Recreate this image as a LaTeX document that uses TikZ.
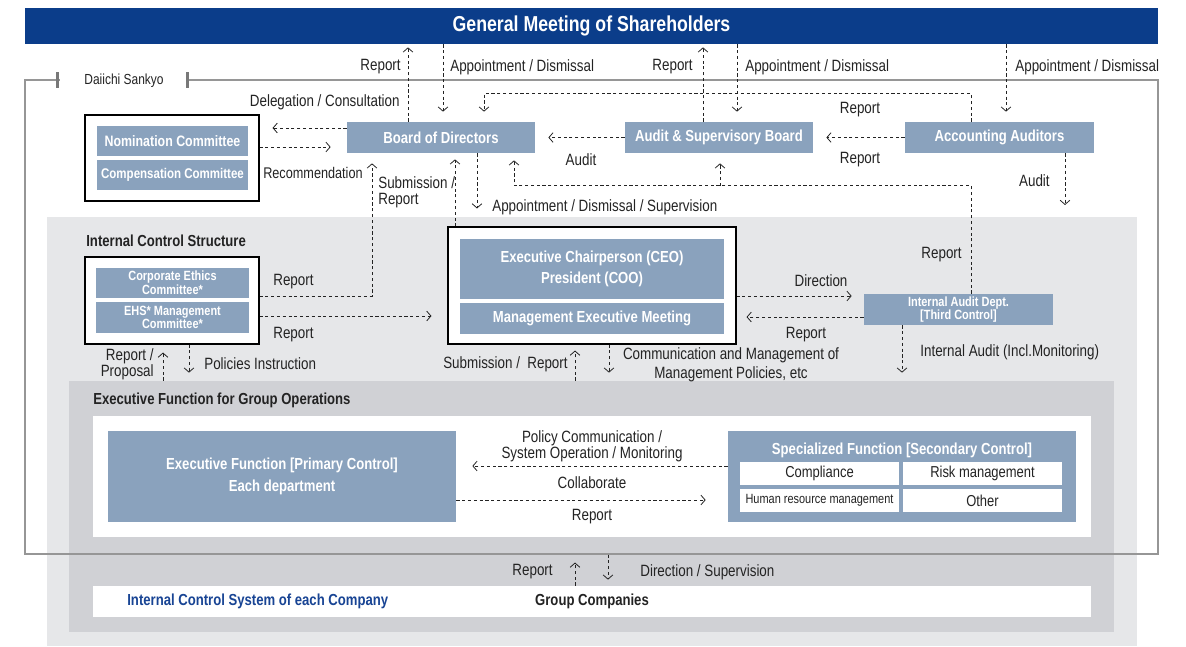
\documentclass[tikz,border=0pt]{standalone}
\usepackage{fontspec}
\setmainfont{Liberation Sans}[FakeStretch=0.82]
\usetikzlibrary{arrows.meta,fit}
\definecolor{gmsblue}{RGB}{11,61,138}
\definecolor{boxblue}{RGB}{138,162,189}
\definecolor{lightgrey}{RGB}{230,231,233}
\definecolor{midgrey}{RGB}{208,209,213}
\definecolor{framegrey}{RGB}{150,150,150}
\definecolor{tickgrey}{RGB}{120,120,120}
\definecolor{ctrlblue}{RGB}{24,68,148}
\definecolor{inkgrey}{RGB}{35,35,35}
\begin{document}
\begin{tikzpicture}[x=0.02cm,y=-0.02cm,
		every node/.style={inner sep=0pt,text=inkgrey,font=\fontsize{9.3}{10}\selectfont},
		wh/.style 2 args={minimum width=#1*0.02cm,minimum height=#2*0.02cm},
		unit/.style={fill=boxblue,text=white,font=\bfseries\fontsize{9.1}{12}\selectfont,align=center},
		small/.style={font=\bfseries\fontsize{7.6}{7.8}\selectfont},
		holder/.style={draw=black,fill=white,line width=0.6pt},
		cell/.style={fill=white,font=\fontsize{9}{10}\selectfont,wh={159}{23}},
		heading/.style={anchor=west,font=\bfseries\fontsize{9.1}{10}\selectfont},
		flow/.style={draw=inkgrey,line width=0.45pt,dash pattern=on 1.8pt off 1.5pt,-{Straight Barb[length=2.4pt,width=5.5pt]}}]
		\useasboundingbox (0,0) rectangle (1186,646);
		\node[fit={(47,217) (1137,646)},fill=lightgrey] (icsarea) {};
		\node[fit={(69,381) (1114,632)},fill=midgrey] (grpops) {};
		\node[fit={(93,416) (1091,537)},fill=white] (panel) {};
		\node[fit={(93,586) (1091,617)},fill=white] (gcbar) {};
		\node[fit={(25,80) (1158,554)},draw=framegrey,line width=0.6pt] (daiichi) {};
		\node[fill=white,minimum width=2.56cm,minimum height=0.3cm,font=\fontsize{8.3}{9}\selectfont] (dslabel) at (124,81) {Daiichi Sankyo};
		\draw[tickgrey,line width=0.06cm] (57,72)--(57,88) (187,72)--(187,88);

		\node[wh={1133}{36},fill=gmsblue,text=white,font=\bfseries\fontsize{12.3}{14}\selectfont] (gms) at (591.5,26) {General Meeting of Shareholders};
		\node[unit,wh={188}{31}] (bod) at (441,137.5) {Board of Directors};
		\node[unit,wh={188}{31}] (asb) at (719,137.5) {Audit \& Supervisory Board};
		\node[unit,wh={189}{31}] (aa) at (999.5,137.5) {Accounting Auditors};
		\node[holder,fit={(85,115) (259,201)}] (ncbox) {};
		\node[unit,wh={151}{30},font=\bfseries\fontsize{8.6}{10}\selectfont] (nom) at (172.5,141) {Nomination Committee};
		\node[unit,wh={151}{30},font=\bfseries\fontsize{8.0}{10}\selectfont] (comp) at (172.5,175) {Compensation Committee};

		\node[heading] (icstitle) at (86,241) {Internal Control Structure};
		\node[holder,fit={(85,257) (259,344)}] (icsbox) {};
		\node[unit,small,wh={153}{30}] (ethics) at (172.5,283) {Corporate Ethics\\Committee*};
		\node[unit,small,wh={153}{31}] (ehs) at (172.5,317.5) {EHS* Management\\Committee*};
		\node[holder,fit={(448,227) (736,344)}] (exbox) {};
		\node[unit,wh={264}{60}] (ceo) at (592,269) {Executive Chairperson (CEO)\\President (COO)};
		\node[unit,wh={264}{31}] (mem) at (592,318.5) {Management Executive Meeting};
		\node[unit,small,wh={189}{31}] (iad) at (958.5,309.5) {Internal Audit Dept.\\{[Third Control]}};

		\node[heading] (grptitle) at (93,400) {Executive Function for Group Operations};
		\node[unit,wh={348}{91},font=\bfseries\fontsize{9.1}{12.5}\selectfont] (efp) at (282,476.5) {Executive Function [Primary Control]\\Each department};
		\node[fill=boxblue,fit={(728,431) (1076,522)}] (sfn) {};
		\node[text=white,font=\bfseries\fontsize{9.1}{10}\selectfont] (sfntitle) at (902,450) {Specialized Function [Secondary Control]};
		\node[cell] (compl) at (819.5,473.5) {Compliance};
		\node[cell] (risk) at (982.5,473.5) {Risk management};
		\node[cell,font=\fontsize{7.6}{8}\selectfont] (hrm) at (819.5,500.5) {Human resource management};
		\node[cell] (other) at (982.5,500.5) {Other};

		\node[heading,text=ctrlblue] (icsys) at (127,601) {Internal Control System of each Company};
		\node[font=\bfseries\fontsize{9.1}{10}\selectfont] (grpco) at (592,601) {Group Companies};

		\draw[flow,shorten >=0.06cm] (408,0 |- bod.north)--(408,0 |- gms.south);
		\draw[flow,shorten >=0.2cm] (443,0 |- gms.south)--(443,0 |- bod.north);
		\draw[flow,shorten >=0.06cm] (703,0 |- asb.north)--(703,0 |- gms.south);
		\draw[flow,shorten >=0.2cm] (737,0 |- gms.south)--(737,0 |- asb.north);
		\draw[flow,shorten >=0.2cm] (1006,0 |- gms.south)--(1006,0 |- aa.north);
		\draw[flow,shorten >=0.2cm] (aa.north -| 971,0)--++(0,-28) -| (bod.north -| 484,0);
		\draw[flow,shorten >=0.26cm] (bod.west |- 0,128)--(ncbox.east |- 0,128);
		\draw[flow,shorten >=0.32cm] (ncbox.east |- 0,147)--(bod.west |- 0,147);
		\draw[flow,shorten >=0.26cm] (asb.west)--(bod.east);
		\draw[flow,shorten >=0.26cm] (aa.west)--(asb.east);
		\coordinate (auditend) at (1065,205);
		\draw[flow] (aa.south -| 1065,0)--(auditend);
		\draw[flow,shorten >=0.14cm] (iad.north -| 971,0)--++(0,-108) -| (bod.south -| 514,0);
		\coordinate (iadbus) at (720,186);
		\draw[flow,shorten >=0.2cm] (iadbus)--(asb.south -| 720,0);
		\draw[flow,shorten >=0.36cm] (bod.south -| 477,0)--(exbox.north -| 477,0);
		\draw[flow,shorten >=0.12cm] (exbox.north -| 455,0)--(bod.south -| 455,0);
		\draw[flow,shorten >=0.2cm] (icsbox.east |- 0,296) -| (bod.south -| 372,0);
		\draw[flow,shorten >=0.32cm] (icsbox.east |- 0,316)--(exbox.west |- 0,316);
		\draw[flow,shorten >=0.16cm] (grpops.north -| 163,0)--(icsbox.south -| 163,0);
		\draw[flow,shorten >=0.16cm] (icsbox.south -| 189,0)--(grpops.north -| 189,0);
		\draw[flow,shorten >=0.12cm] (grpops.north -| 575,0)--(exbox.south -| 575,0);
		\draw[flow,shorten >=0.16cm] (exbox.south -| 609,0)--(grpops.north -| 609,0);
		\draw[flow,shorten >=0.24cm] (exbox.east |- 0,296)--(iad.west |- 0,296);
		\draw[flow,shorten >=0.2cm] (iad.west |- 0,317)--(exbox.east |- 0,317);
		\draw[flow,shorten >=0.16cm] (iad.south -| 902,0)--(grpops.north -| 902,0);
		\draw[flow,shorten >=0.32cm] (sfn.west |- 0,466)--(efp.east |- 0,466);
		\draw[flow,shorten >=0.44cm] (efp.east |- 0,500)--(sfn.west |- 0,500);
		\draw[flow,shorten >=0.16cm] (gcbar.north -| 575,0)--(daiichi.south -| 575,0);
		\draw[flow,shorten >=0.12cm] (daiichi.south -| 608,0)--(gcbar.north -| 608,0);

		\node[anchor=east] (l1) at (401,67) {Report};
		\node[anchor=west] (l2) at (450,67) {Appointment / Dismissal};
		\node[anchor=east] (l3) at (693,67) {Report};
		\node[anchor=west] (l4) at (745,67) {Appointment / Dismissal};
		\node[anchor=west] (l5) at (1015,67) {Appointment / Dismissal};
		\node[anchor=east] (l6) at (400,102) {Delegation / Consultation};
		\node[anchor=east,font=\fontsize{8.8}{10}\selectfont] (l7) at (363,173) {Recommendation};
		\node (l8) at (860,110) {Report};
		\node (l9) at (860,160) {Report};
		\node (l10) at (581,160) {Audit};
		\node[anchor=east] (l11) at (1050,181) {Audit};
		\node[anchor=west,align=left,font=\fontsize{9.3}{9.2}\selectfont] (l12) at (378,192) {Submission /\\Report};
		\node[anchor=west] (l13) at (492,207) {Appointment / Dismissal / Supervision};
		\node[anchor=west] (l14) at (273,282) {Report};
		\node[anchor=west] (l15) at (273,335) {Report};
		\node[anchor=east] (l16) at (962,255) {Report};
		\node (l17) at (821,281) {Direction};
		\node (l18) at (806,335) {Report};
		\node[anchor=east,align=right,font=\fontsize{9.3}{9.2}\selectfont] (l19) at (154,364) {Report /\\Proposal};
		\node[anchor=west] (l20) at (204,364) {Policies Instruction};
		\node[anchor=east] (l21) at (568,364) {Submission /\ \ Report};
		\node[align=center,font=\fontsize{9.3}{10.8}\selectfont] (l22) at (731,365) {Communication and Management of\\Management Policies, etc};
		\node[anchor=west] (l23) at (920,352) {Internal Audit (Incl.Monitoring)};
		\node[align=center,font=\fontsize{9.3}{9.2}\selectfont] (l24) at (592,446) {Policy Communication /\\System Operation / Monitoring};
		\node (l25) at (592,483) {Collaborate};
		\node (l26) at (592,517) {Report};
		\node[anchor=east] (l27) at (553,572) {Report};
		\node[anchor=west] (l28) at (640,572) {Direction / Supervision};
	\end{tikzpicture}
\end{document}
